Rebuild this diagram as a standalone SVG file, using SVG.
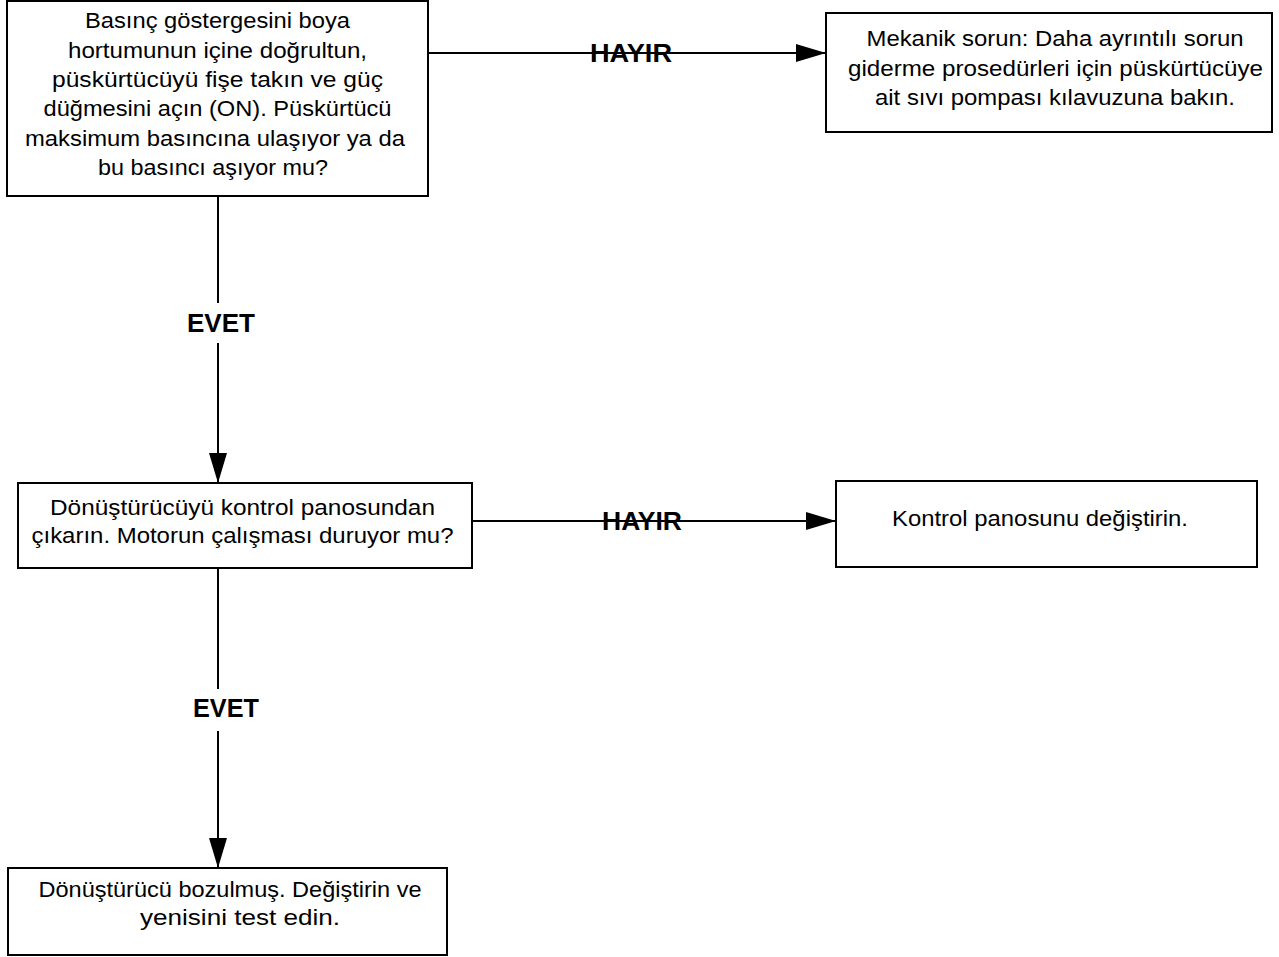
<svg xmlns="http://www.w3.org/2000/svg" width="1279" height="957" viewBox="0 0 1279 957">
<style>
.box{fill:#fff;stroke:#000;stroke-width:2}
.t{font-family:"Liberation Sans",Arial,sans-serif;font-size:22px;fill:#000;text-anchor:middle}
.lbl{font-family:"Liberation Sans",Arial,sans-serif;font-size:25px;font-weight:bold;fill:#000;text-anchor:middle}
.ln{stroke:#000;stroke-width:2;fill:none}
</style>
<defs>
<marker id="ah" markerUnits="userSpaceOnUse" markerWidth="31" markerHeight="18" refX="30" refY="9" orient="auto" viewBox="0 0 31 18">
<path d="M0,0 L30,9 L0,18 z" fill="#000"/>
</marker>
</defs>
<rect width="1279" height="957" fill="#fff"/>
<g id="connectors">
<line class="ln" x1="428" y1="53" x2="826" y2="53" marker-end="url(#ah)"/>
<line class="ln" x1="218" y1="196" x2="218" y2="303"/>
<line class="ln" x1="218" y1="343" x2="218" y2="483" marker-end="url(#ah)"/>
<line class="ln" x1="472" y1="521" x2="836" y2="521" marker-end="url(#ah)"/>
<line class="ln" x1="218" y1="568" x2="218" y2="689"/>
<line class="ln" x1="218" y1="731" x2="218" y2="868" marker-end="url(#ah)"/>
<text class="lbl" x="631" y="62" textLength="82" lengthAdjust="spacingAndGlyphs">HAYIR</text>
<text class="lbl" x="221" y="332" textLength="68" lengthAdjust="spacingAndGlyphs">EVET</text>
<text class="lbl" x="642" y="530" textLength="80" lengthAdjust="spacingAndGlyphs">HAYIR</text>
<text class="lbl" x="226" y="717" textLength="66" lengthAdjust="spacingAndGlyphs">EVET</text>
</g>
<g id="n1">
<rect class="box" x="7" y="1" width="421" height="195"/>
<text class="t" x="217.5" y="28" textLength="265" lengthAdjust="spacingAndGlyphs">Basınç göstergesini boya</text>
<text class="t" x="217.5" y="57.5" textLength="299" lengthAdjust="spacingAndGlyphs">hortumunun içine doğrultun,</text>
<text class="t" x="217.5" y="87" textLength="331" lengthAdjust="spacingAndGlyphs">püskürtücüyü fişe takın ve güç</text>
<text class="t" x="217.5" y="116" textLength="348" lengthAdjust="spacingAndGlyphs">düğmesini açın (ON). Püskürtücü</text>
<text class="t" x="215" y="146" textLength="380" lengthAdjust="spacingAndGlyphs">maksimum basıncına ulaşıyor ya da</text>
<text class="t" x="213" y="175" textLength="230" lengthAdjust="spacingAndGlyphs">bu basıncı aşıyor mu?</text>
</g>
<g id="n2">
<rect class="box" x="826" y="13" width="446" height="119"/>
<text class="t" x="1055" y="46" textLength="377" lengthAdjust="spacingAndGlyphs">Mekanik sorun: Daha ayrıntılı sorun</text>
<text class="t" x="1055.5" y="76" textLength="415" lengthAdjust="spacingAndGlyphs">giderme prosedürleri için püskürtücüye</text>
<text class="t" x="1055" y="105" textLength="360" lengthAdjust="spacingAndGlyphs">ait sıvı pompası kılavuzuna bakın.</text>
</g>
<g id="n3">
<rect class="box" x="18" y="483" width="454" height="85"/>
<text class="t" x="242.5" y="515" textLength="385" lengthAdjust="spacingAndGlyphs">Dönüştürücüyü kontrol panosundan</text>
<text class="t" x="242.5" y="543" textLength="422" lengthAdjust="spacingAndGlyphs">çıkarın. Motorun çalışması duruyor mu?</text>
</g>
<g id="n4">
<rect class="box" x="836" y="481" width="421" height="86"/>
<text class="t" x="1040" y="526" textLength="296" lengthAdjust="spacingAndGlyphs">Kontrol panosunu değiştirin.</text>
</g>
<g id="n5">
<rect class="box" x="8" y="868" width="439" height="87"/>
<text class="t" x="230" y="897" textLength="383" lengthAdjust="spacingAndGlyphs">Dönüştürücü bozulmuş. Değiştirin ve</text>
<text class="t" x="240" y="925" textLength="200" lengthAdjust="spacingAndGlyphs">yenisini test edin.</text>
</g>
</svg>
